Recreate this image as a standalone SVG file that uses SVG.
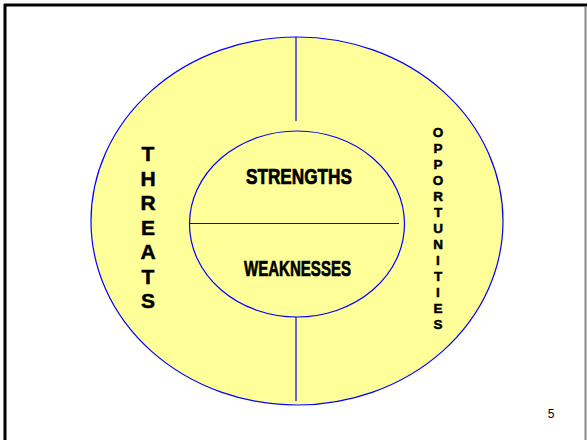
<svg xmlns="http://www.w3.org/2000/svg" width="587" height="440" viewBox="0 0 587 440">
<style>
.ring{fill:#FFFF99;stroke:#0000FF;stroke-width:1.2}
.ln{stroke:#0000FF;stroke-width:1.2;fill:none}
.big{font-family:"Liberation Sans",Arial,sans-serif;font-weight:bold;font-size:22px;fill:#000;stroke:#000;stroke-width:0.7}
.th{font-family:"Liberation Sans",Arial,sans-serif;font-weight:bold;font-size:21px;fill:#000;stroke:#000;stroke-width:0.5;text-anchor:middle}
.op{font-family:"Liberation Sans",Arial,sans-serif;font-weight:bold;font-size:13.5px;fill:#000;stroke:#000;stroke-width:0.5;text-anchor:middle}
</style>
<rect x="0" y="0" width="587" height="440" fill="#fff"/>
<g id="frame">
<line x1="4" y1="5" x2="587" y2="5" stroke="#000" stroke-width="3"/>
<line x1="5" y1="4" x2="5" y2="440" stroke="#000" stroke-width="3"/>
<line x1="585.5" y1="6" x2="585.5" y2="440" stroke="#888" stroke-width="2"/>
</g>
<g id="outer">
<ellipse class="ring" cx="297" cy="221" rx="206" ry="184"/>
</g>
<g id="connectors">
<line class="ln" x1="296" y1="37" x2="296" y2="121"/>
<line class="ln" x1="296" y1="317" x2="296" y2="401"/>
</g>
<g id="inner">
<ellipse class="ring" cx="297" cy="224" rx="107.5" ry="93"/>
<line class="ln" x1="190" y1="223.5" x2="399" y2="223.5"/>
</g>
<g id="strengths">
<text class="big" x="246" y="184" textLength="106" lengthAdjust="spacingAndGlyphs">STRENGTHS</text>
</g>
<g id="weaknesses">
<text class="big" x="244" y="276" textLength="107" lengthAdjust="spacingAndGlyphs">WEAKNESSES</text>
</g>
<g id="threats">
<text class="th" x="148" y="161">T</text>
<text class="th" x="148" y="185.5">H</text>
<text class="th" x="148" y="210">R</text>
<text class="th" x="148" y="234.5">E</text>
<text class="th" x="148" y="259">A</text>
<text class="th" x="148" y="283.5">T</text>
<text class="th" x="148" y="308">S</text>
</g>
<g id="opportunities">
<text class="op" x="438" y="137">O</text>
<text class="op" x="438" y="153">P</text>
<text class="op" x="438" y="169">P</text>
<text class="op" x="438" y="185">O</text>
<text class="op" x="438" y="201">R</text>
<text class="op" x="438" y="217">T</text>
<text class="op" x="438" y="233">U</text>
<text class="op" x="438" y="249">N</text>
<text class="op" x="438" y="265">I</text>
<text class="op" x="438" y="281">T</text>
<text class="op" x="438" y="297">I</text>
<text class="op" x="438" y="313">E</text>
<text class="op" x="438" y="329">S</text>
</g>
<g id="page">
<text x="551" y="418" font-family="Liberation Sans,Arial,sans-serif" font-size="12" text-anchor="middle" fill="#000">5</text>
</g>
</svg>
